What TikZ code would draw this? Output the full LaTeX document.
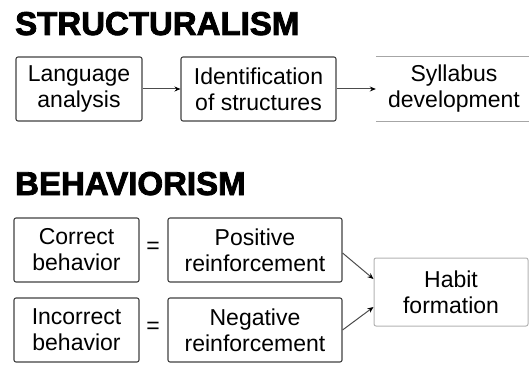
\documentclass[tikz,border=0pt]{standalone}
\usepackage{fontspec}
\setmainfont{Liberation Sans}
\newfontfamily\titlefont{Liberation Sans}[BoldFeatures={FakeBold=2.5}]
\usetikzlibrary{arrows.meta}
\tikzset{
  boxtxt/.style={font=\fontsize{23}{26}\selectfont, align=center, inner sep=0pt},
  stbox/.style={boxtxt, draw=gray!50!black, line width=1.1pt, rounded corners=2pt, minimum height=64pt},
  openbox/.style={boxtxt, minimum height=64pt},
  faintline/.style={draw=gray!70, line width=0.9pt},
  title/.style={font=\titlefont\bfseries\fontsize{33}{36}\selectfont, anchor=base west, inner sep=0pt},
  conn/.style={draw=gray!60!black, line width=1pt, -{Stealth[length=6pt,width=5pt,black]}},
  eqsign/.style={font=\fontsize{23}{26}\selectfont, inner sep=0pt}
}
\begin{document}
\begin{tikzpicture}[x=1pt,y=-1pt]
\useasboundingbox (0,0) rectangle (529,366);
% titles
\node[title] (t1) at (15,35) {STRUCTURALISM};
\node[title] (t2) at (15,195) {BEHAVIORISM};
% row 1
\node[stbox, minimum width=126pt] (lang) at (79,89) {Language\\analysis};
\node[stbox, minimum width=155pt] (ident) at (258.5,89) {Identification\\of structures};
\node[openbox, minimum width=152pt] (syl) at (454,89) {Syllabus\\development};
\draw[faintline] ([xshift=-2pt]syl.north west) -- (syl.north east);
\draw[faintline] ([xshift=-2pt]syl.south west) -- (syl.south east);
\draw[conn] (lang.east) -- (ident.west);
\draw[conn] (ident.east) -- ([xshift=-2pt]syl.west);
% row 2
\node[stbox, minimum width=125pt] (corr) at (76.5,250) {Correct\\behavior};
\node[stbox, minimum width=174pt] (pos) at (255,250) {Positive\\reinforcement};
\node[stbox, minimum width=125pt] (incorr) at (76.5,330) {Incorrect\\behavior};
\node[stbox, minimum width=174pt] (neg) at (255,330) {Negative\\reinforcement};
\node[eqsign] (eq1) at (153,248) {=};
\node[eqsign] (eq2) at (153,328) {=};
\node[boxtxt, draw=gray!60, line width=1pt, rounded corners=2pt, minimum width=154pt, minimum height=68pt] (habit) at (451,292) {Habit\\formation};
\draw[conn] ([yshift=-3pt]pos.east) -- ([yshift=13pt]habit.west);
\draw[conn] (neg.east) -- ([yshift=-15pt]habit.west);
\end{tikzpicture}
\end{document}
